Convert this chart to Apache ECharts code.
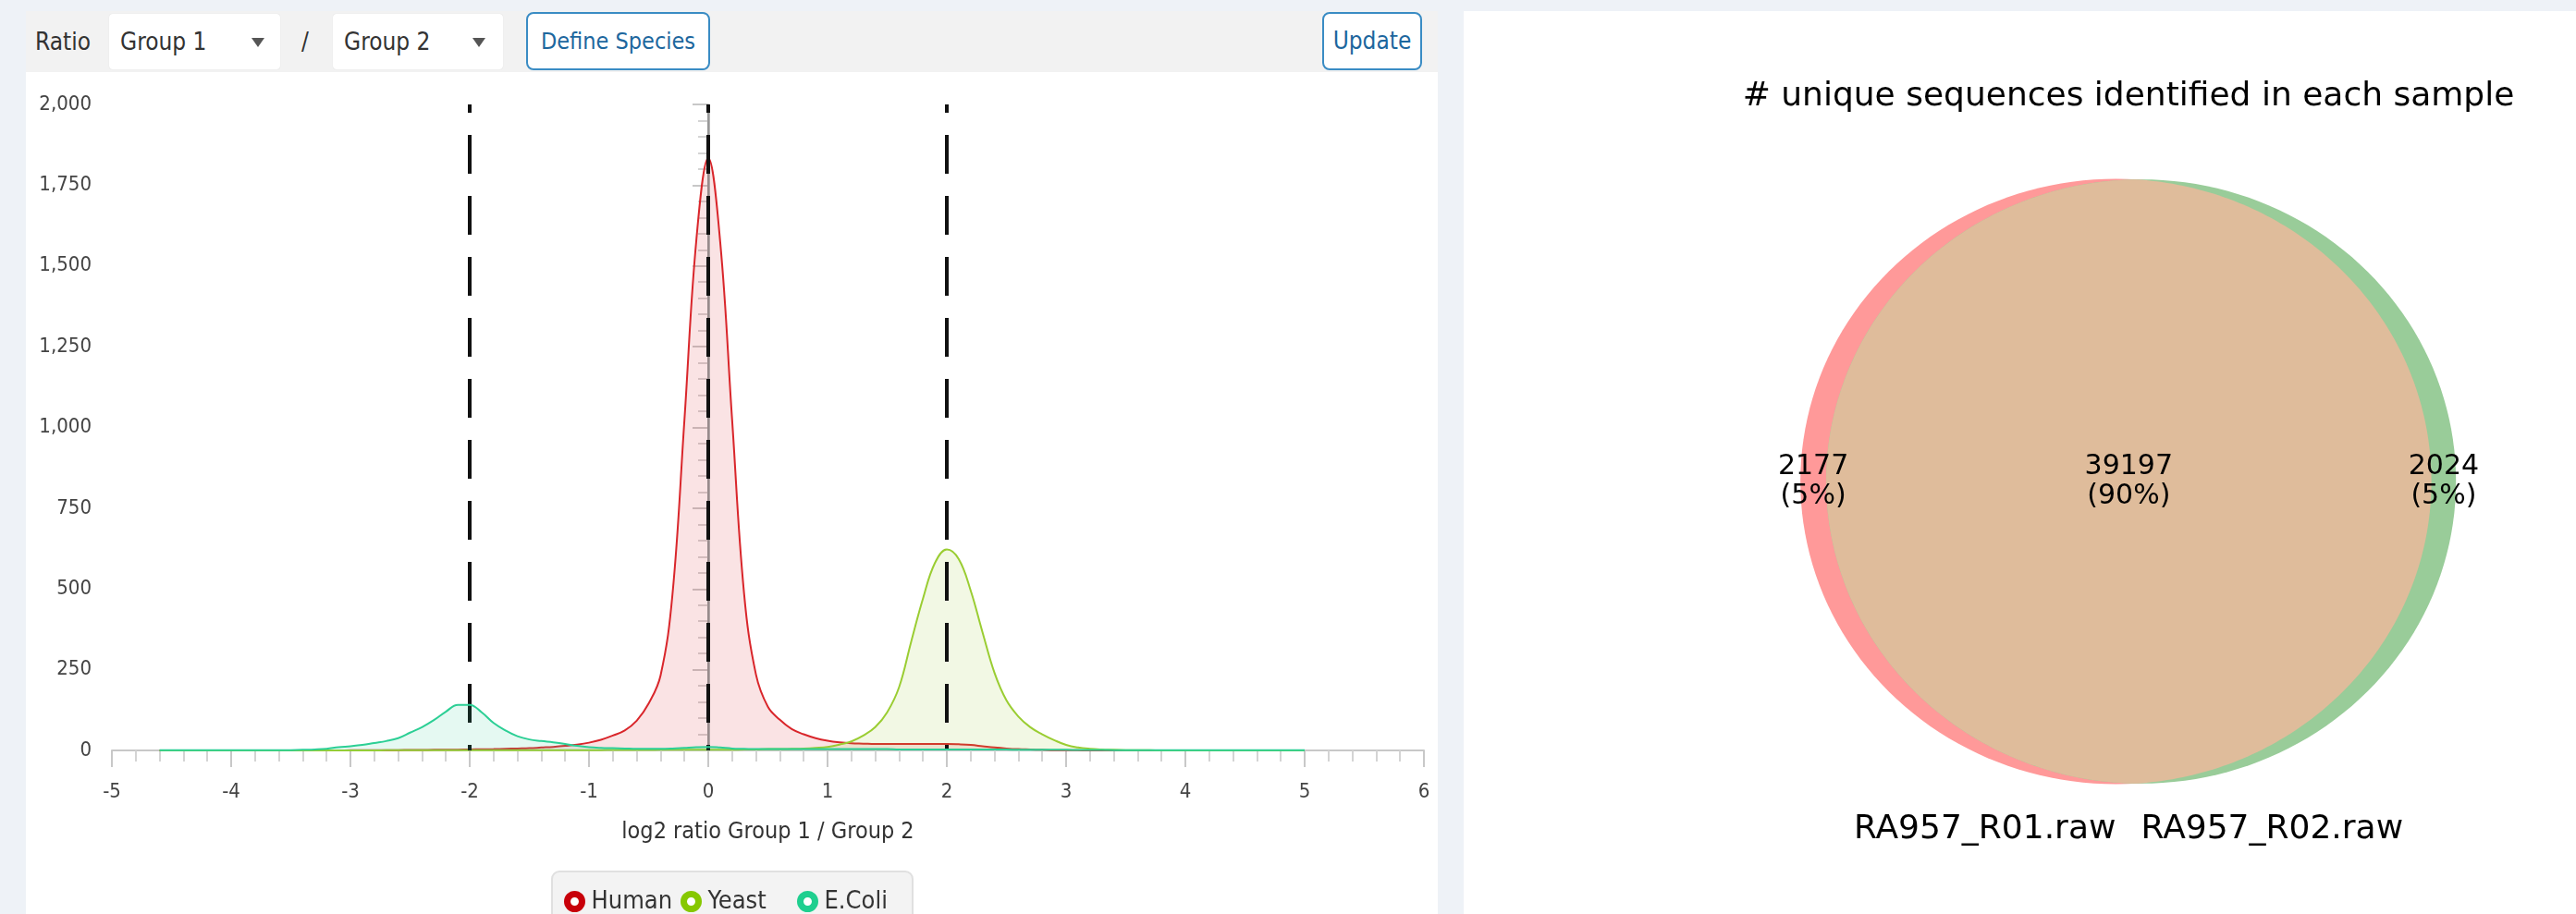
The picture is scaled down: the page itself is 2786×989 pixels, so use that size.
<!DOCTYPE html>
<html>
<head>
<meta charset="utf-8">
<script src="https://cdn.jsdelivr.net/npm/echarts@6/dist/echarts.min.js"></script>
<style>
html,body{margin:0;padding:0;width:2786px;height:989px;overflow:hidden;background:#eef2f7;}
.abs{position:absolute;box-sizing:border-box;white-space:nowrap;}
.ui{font-family:'DejaVu Sans Condensed','Open Sans',sans-serif;font-size:26px;color:#333;}
#toolbar{left:28px;top:12px;width:1527px;height:66px;background:#f2f2f2;}
#leftPanel{left:28px;top:78px;width:1527px;height:911px;background:#fff;}
#rightPanel{left:1583px;top:12px;width:1203px;height:977px;background:#fff;}
.dd{background:#fff;border-radius:4px;box-shadow:0 0 1px rgba(0,0,0,0.15);height:60px;top:15px;line-height:60px;padding-left:12px;}
.tri{position:absolute;width:0;height:0;border-left:7px solid transparent;border-right:7px solid transparent;border-top:10px solid #555;top:26px;}
.btn{background:#fff;border:2px solid #3a8cc4;border-radius:8px;top:13px;height:63px;line-height:59px;text-align:center;color:#1d679e;}
#chart{left:0;top:0;width:2786px;height:989px;}
</style>
</head>
<body>
<div id="toolbar" class="abs"></div>
<div id="leftPanel" class="abs"></div>
<div id="rightPanel" class="abs"></div>
<div class="abs ui" style="left:38px;top:15px;line-height:60px;">Ratio</div>
<div class="abs ui dd" style="left:118px;width:185px;">Group 1<div class="tri" style="left:154px;"></div></div>
<div class="abs ui" style="left:326px;top:15px;line-height:60px;">/</div>
<div class="abs ui dd" style="left:360px;width:184px;">Group 2<div class="tri" style="left:151px;"></div></div>
<div class="abs ui btn" style="left:569px;width:199px;font-size:25px;">Define Species</div>
<div class="abs ui btn" style="left:1430px;width:108px;">Update</div>
<div id="chart" class="abs"></div>
<script>
// ---------- data ----------
const xs = [
 -4.6,-4.5,-4.4,-4.3,-4.2,-4.1,-4.0,-3.9,-3.8,-3.7,
 -3.6,-3.5,-3.4,-3.3,-3.2,-3.1,-3.0,-2.9,-2.8,-2.7,
 -2.6,-2.5,-2.4,-2.3,-2.2,-2.1,-2.0,-1.9,-1.8,-1.7,
 -1.6,-1.5,-1.4,-1.3,-1.2,-1.1,-1.0,-0.9,-0.8,-0.7,
 -0.6,-0.5,-0.4,-0.3,-0.2,-0.1,0.0,0.1,0.2,0.3,
 0.4,0.5,0.6,0.7,0.8,0.9,1.0,1.1,1.2,1.3,
 1.4,1.5,1.6,1.7,1.8,1.9,2.0,2.1,2.2,2.3,
 2.4,2.5,2.6,2.7,2.8,2.9,3.0,3.1,3.2,3.3,
 3.4,3.5,3.6,3.7,3.8,3.9,4.0,4.1,4.2,4.3,
 4.4,4.5,4.6,4.7,4.8,4.9,5.0
];
const human = [
 0,0,0,0,0,0,0,0,0,0,
 0,0,0,0,0,0,0.5,0.5,1,1,
 1,1.5,1.5,2,2,2.5,3,3.5,4,5,
 6,7,9,11,14,18,24,33,46,62,
 92,145,232,483,1022,1580,1834,1575,1024,487,
 235,135,95,66,50,38,30,25,22,21,
 20,20,20,20,20,20,20,19,17,13,
 9,6,4,3,2,1,1,0.5,0,0,
 0,0,0,0,0,0,0,0,0,0,
 0,0,0,0,0,0,0
];
const yeast = [
 0,0,0,0,0,0,0,0,0,0,
 0,0,0,0,0,0,0,0,0,0.5,
 0.5,0.5,0.5,0.5,0.5,1,1,1,1,1,
 1,1,1,1,1,1,1,1,1.5,1.5,
 1.5,1.5,2,2,2,2,2,2,2,3,
 3,4,4,5,6,8,11,18,28,46,
 72,118,196,335,470,580,622,592,495,365,
 240,155,105,72,50,32,17,9,5,3,
 2,1,0.5,0.5,0,0,0,0,0,0,
 0,0,0,0,0,0,0
];
const ecoli = [
 0.5,0.5,0.5,0.5,0.5,0.5,0.5,0.5,0.5,0.5,
 0.5,1,2,3,5,10,13,17,23,29,
 38,55,72,94,120,141,141,118,85,62,
 44,34,29,25,20,14,10,8,7,6,
 5,5,5,6,8,10,11,9,6,5,
 4,4,4,4,4,4,4,4,4,4,
 4,4,3,3,3,3,3,3,3,3,
 3,3,2,2,2,2,2,1.5,1.5,1.5,
 1,1,1,1,1,1,1,1,1,1,
 1,1,1,1,1,1,1
];
const speciesNames = ['Human', 'Yeast', 'E.Coli'];
const refLines = [-2, 0, 2];
const xAxisMin = -5, xAxisMax = 6, xAxisStep = 1;
const yAxisMin = 0, yAxisMax = 2000, yAxisStep = 250;
const xAxisTitle = 'log2 ratio Group 1 / Group 2';

const vennTitle = '# unique sequences identified in each sample';
const vennSetNames = ['RA957_R01.raw', 'RA957_R02.raw'];
const vennCounts = [2177, 39197, 2024]; // only R01, both, only R02

// ---------- styles ----------
const UI_FONT = "'DejaVu Sans Condensed','Open Sans',sans-serif";
const VENN_FONT = "'DejaVu Sans',sans-serif";
const lineColors = ['#d9262b', '#9acd32', '#2ccf95'];
const areaColors = ['rgba(217,30,40,0.18)', 'rgba(154,205,50,0.19)', 'rgba(44,207,149,0.18)'];
const legendColors = ['#c8000a', '#86c800', '#1fcf8f'];
const legendLefts = [610, 736, 862];
const seriesData = [human, yeast, ecoli];

// ---------- venn geometry from counts ----------
const areaA = vennCounts[0] + vennCounts[1];
const areaB = vennCounts[2] + vennCounts[1];
const rA = Math.sqrt(areaA / Math.PI), rB = Math.sqrt(areaB / Math.PI);
function lensArea(d, r1, r2) {
  if (d >= r1 + r2) return 0;
  if (d <= Math.abs(r1 - r2)) return Math.PI * Math.min(r1, r2) ** 2;
  const a1 = r1 * r1 * Math.acos((d * d + r1 * r1 - r2 * r2) / (2 * d * r1));
  const a2 = r2 * r2 * Math.acos((d * d + r2 * r2 - r1 * r1) / (2 * d * r2));
  const t = 0.5 * Math.sqrt((-d + r1 + r2) * (d + r1 - r2) * (d - r1 + r2) * (d + r1 + r2));
  return a1 + a2 - t;
}
let lo = Math.abs(rA - rB) + 1e-9, hi = rA + rB;
for (let k = 0; k < 100; k++) {
  const mid = (lo + hi) / 2;
  if (lensArea(mid, rA, rB) > vennCounts[1]) lo = mid; else hi = mid;
}
const dist = (lo + hi) / 2;
const cA = -dist / 2, cB = dist / 2;
const total = vennCounts[0] + vennCounts[1] + vennCounts[2];
const pct = v => Math.round(v / total * 100) + '%';

function renderVenn(params, api) {
  const N = 180;
  const arc = (cx, r, a0, a1) => {
    const pts = [];
    for (let k = 0; k <= N; k++) {
      const a = a0 + (a1 - a0) * k / N;
      pts.push(api.coord([cx + r * Math.cos(a), r * Math.sin(a)]));
    }
    return pts;
  };
  const a = (dist * dist + rA * rA - rB * rB) / (2 * dist);
  const xi = cA + a, yi = Math.sqrt(Math.max(rA * rA - a * a, 0));
  const tB1 = Math.atan2(yi, xi - cB), tB2 = 2 * Math.PI - tB1;
  const tA1 = Math.atan2(-yi, xi - cA), tA2 = Math.atan2(yi, xi - cA);
  const lens = arc(cB, rB, tB1, tB2).concat(arc(cA, rA, tA1, tA2));
  const txt = (dx, dy, text, align, size, vAlign) => {
    const p = api.coord([dx, dy]);
    return {type: 'text', x: p[0], y: p[1], style: {text: text, fill: '#000', fontFamily: VENN_FONT, fontSize: size, lineHeight: size * 1.05, align: align, verticalAlign: vAlign || 'middle'}};
  };
  const labelY = -Math.max(rA, rB) * 1.15;
  return {type: 'group', children: [
    {type: 'polygon', shape: {points: arc(cA, rA, 0, 2 * Math.PI)}, style: {fill: '#ff9999'}},
    {type: 'polygon', shape: {points: arc(cB, rB, 0, 2 * Math.PI)}, style: {fill: '#99cc99'}},
    {type: 'polygon', shape: {points: lens}, style: {fill: '#dfbc9b'}},
    txt(((cA - rA) + (cB - rB)) / 2, 0, vennCounts[0] + '\n(' + pct(vennCounts[0]) + ')', 'center', 30),
    txt(((cB - rB) + (cA + rA)) / 2, 0, vennCounts[1] + '\n(' + pct(vennCounts[1]) + ')', 'center', 30),
    txt(((cA + rA) + (cB + rB)) / 2, 0, vennCounts[2] + '\n(' + pct(vennCounts[2]) + ')', 'center', 30),
    txt(cA, labelY, vennSetNames[0], 'right', 36),
    txt(cB, labelY, vennSetNames[1], 'left', 36)
  ]};
}

// ---------- chart ----------
const chart = echarts.init(document.getElementById('chart'), null, {renderer: 'canvas'});
const dashStyle = {color: '#111', width: 4, type: [42, 24], dashOffset: 33};
const series = speciesNames.map((name, i) => ({
  name: name, type: 'line', xAxisIndex: 0, yAxisIndex: 0,
  data: xs.map((x, j) => [x, seriesData[i][j]]),
  smooth: 0.4, showSymbol: false, symbol: 'none',
  lineStyle: {color: lineColors[i], width: 2},
  itemStyle: {color: lineColors[i]},
  areaStyle: {color: areaColors[i]},
  z: 3 + i, silent: true
}));
series.push({
  name: 'refs', type: 'line', xAxisIndex: 0, yAxisIndex: 0, data: [], z: 10, silent: true,
  markLine: {
    silent: true, symbol: ['none', 'none'], label: {show: false}, animation: false,
    data: [[{coord: [0, yAxisMax], lineStyle: {color: 'rgba(90,90,90,0.45)', width: 3, type: 'solid'}}, {coord: [0, yAxisMin]}]]
      .concat(refLines.map(v => [{coord: [v, yAxisMax], lineStyle: dashStyle}, {coord: [v, yAxisMin]}]))
  }
});
series.push({
  type: 'custom', xAxisIndex: 1, yAxisIndex: 1, data: [[0, 0]], silent: true,
  renderItem: renderVenn, clip: false
});

const legends = speciesNames.map((n, i) => ({
  left: legendLefts[i], top: 962, orient: 'horizontal', icon: 'circle',
  itemWidth: 16, itemHeight: 16, itemGap: 0, padding: 0, selectedMode: false, z: 5,
  textStyle: {fontFamily: UI_FONT, fontSize: 27, color: '#333', padding: [0, 0, 0, 5]},
  data: [{name: n, itemStyle: {color: '#fff', borderColor: legendColors[i], borderWidth: 7}}]
}));

chart.setOption({
  animation: false,
  backgroundColor: 'transparent',
  grid: [
    {left: 121, top: 113, width: 1419, height: 699, containLabel: false, outerBoundsMode: 'none'},
    {left: 1856, top: 93, width: 892, height: 856, containLabel: false, outerBoundsMode: 'none'}
  ],
  xAxis: [
    {
      type: 'value', gridIndex: 0, min: xAxisMin, max: xAxisMax, interval: xAxisStep,
      name: xAxisTitle, nameLocation: 'middle', nameGap: 76,
      nameTextStyle: {fontFamily: UI_FONT, fontSize: 25, color: '#333'},
      axisLine: {show: true, onZero: false, lineStyle: {color: '#c8c8c8', width: 2}},
      axisTick: {show: true, length: 18, lineStyle: {color: '#c8c8c8', width: 2}},
      minorTick: {show: true, splitNumber: 5, length: 12, lineStyle: {color: '#d4d4d4', width: 2}},
      splitLine: {show: false}, minorSplitLine: {show: false},
      axisLabel: {margin: 34, fontFamily: UI_FONT, fontSize: 22, color: '#444'}
    },
    {type: 'value', gridIndex: 1, min: -150, max: 150, show: false}
  ],
  yAxis: [
    {
      type: 'value', gridIndex: 0, min: yAxisMin, max: yAxisMax, interval: yAxisStep,
      axisLine: {show: true, lineStyle: {color: '#c8c8c8', width: 2}},
      axisTick: {show: true, length: 17, lineStyle: {color: '#c8c8c8', width: 2}},
      minorTick: {show: true, splitNumber: 5, length: 11, lineStyle: {color: '#d4d4d4', width: 2}},
      splitLine: {show: false}, minorSplitLine: {show: false},
      axisLabel: {margin: 22, fontFamily: UI_FONT, fontSize: 22, color: '#444',
        formatter: v => v.toLocaleString('en-US')}
    },
    {type: 'value', gridIndex: 1, min: -150, max: 150, show: false}
  ],
  legend: legends,
  graphic: [
    {
      type: 'rect', x: 597, y: 943, z: 0, silent: true,
      shape: {width: 390, height: 80, r: 8},
      style: {fill: '#f3f3f3', stroke: '#e0e0e0', lineWidth: 2}
    },
    {
      type: 'text', x: 2302, y: 105, silent: true,
      style: {text: vennTitle, fill: '#000', fontFamily: VENN_FONT, fontSize: 36, align: 'center', verticalAlign: 'middle'}
    }
  ],
  series: series
});
</script>
</body>
</html>
